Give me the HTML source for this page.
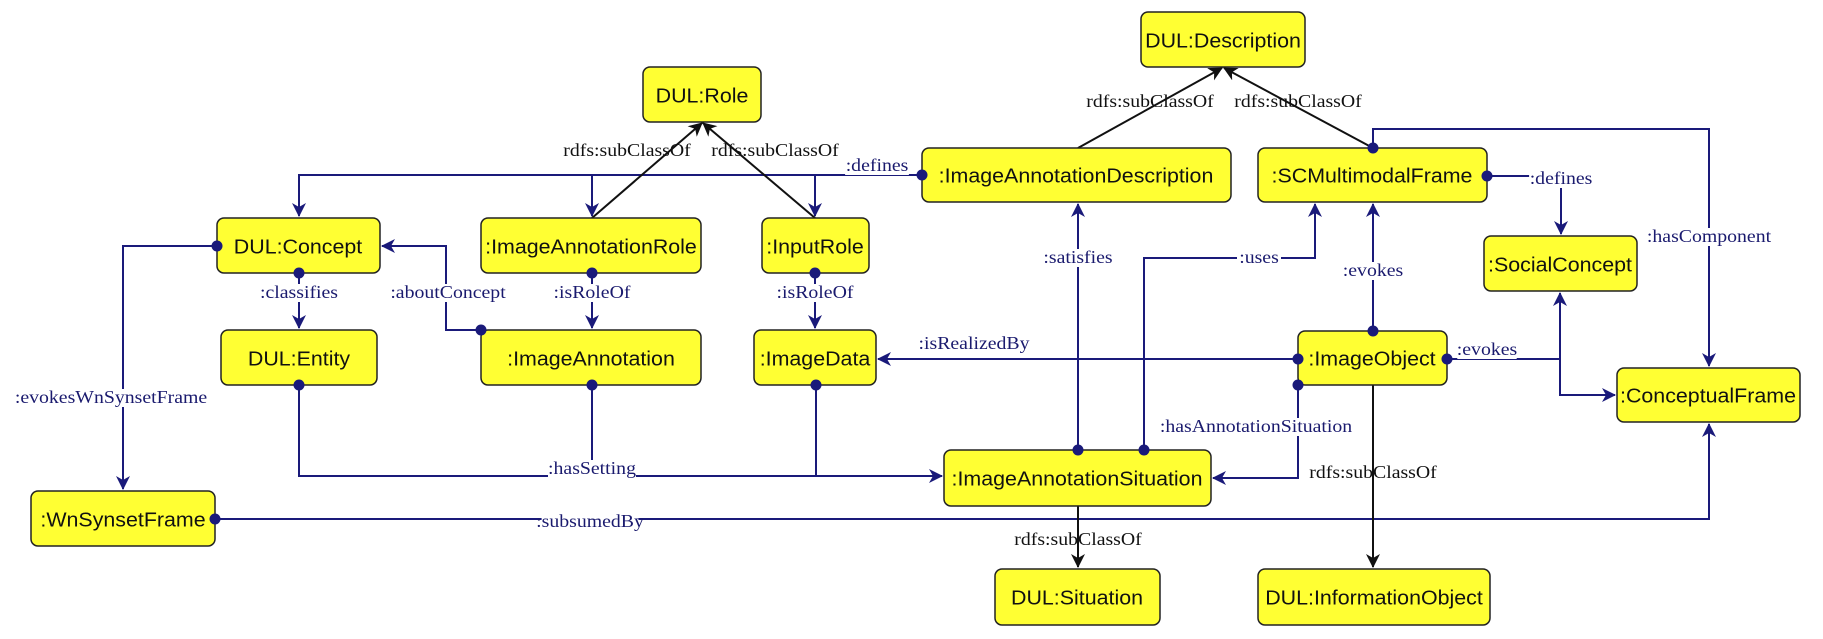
<!DOCTYPE html>
<html><head><meta charset="utf-8"><style>
html,body{margin:0;padding:0;background:#fff;overflow:hidden;}
svg{display:block;}
.b{fill:#ffff33;stroke:#222;stroke-width:1.5;}
.t{font-family:"Liberation Sans",sans-serif;font-size:20px;fill:#111;text-anchor:middle;dominant-baseline:central;}
.l{font-family:"Liberation Serif",serif;font-size:18px;fill:#1a1a6e;text-anchor:middle;dominant-baseline:central;}
.lk{font-family:"Liberation Serif",serif;font-size:18px;fill:#111;text-anchor:middle;dominant-baseline:central;}
.n{fill:none;stroke:#1a1a7a;stroke-width:2;}
.k{fill:none;stroke:#111;stroke-width:2;}
.bg{fill:#fff;}
</style></head><body>
<svg width="1823" height="639" viewBox="0 0 1823 639" xmlns="http://www.w3.org/2000/svg">
<defs>
<marker id="an" markerWidth="14" markerHeight="14" refX="13" refY="7" orient="auto" markerUnits="userSpaceOnUse"><path d="M0,0 L14,7 L0,14 L4,7 z" fill="#1a1a7a"/></marker>
<marker id="ak" markerWidth="14" markerHeight="14" refX="13" refY="7" orient="auto" markerUnits="userSpaceOnUse"><path d="M0,0 L14,7 L0,14 L4,7 z" fill="#111"/></marker>
</defs>

<g class="n">
<path d="M922,175 H299 V216" marker-end="url(#an)"/>
<path d="M592,175 V216" marker-end="url(#an)"/>
<path d="M815,175 V216" marker-end="url(#an)"/>
<path d="M217,246 H123 V489" marker-end="url(#an)"/>
<path d="M299,273 V328" marker-end="url(#an)"/>
<path d="M592,273 V328" marker-end="url(#an)"/>
<path d="M815,273 V328" marker-end="url(#an)"/>
<path d="M481,330 H446 V246 H382" marker-end="url(#an)"/>
<path d="M299,385 V476 H942" marker-end="url(#an)"/>
<path d="M592,385 V476"/>
<path d="M816,385 V476"/>
<path d="M215,519 H1709 V424" marker-end="url(#an)"/>
<path d="M1373,148 V129 H1709 V366" marker-end="url(#an)"/>
<path d="M1487,176 H1561 V234" marker-end="url(#an)"/>
<path d="M1078,450 V204" marker-end="url(#an)"/>
<path d="M1144,450 V258 H1315 V204" marker-end="url(#an)"/>
<path d="M1373,331 V204" marker-end="url(#an)"/>
<path d="M1447,359 H1560 V293" marker-end="url(#an)"/>
<path d="M1560,359 V395 H1615" marker-end="url(#an)"/>
<path d="M1298,359 H878" marker-end="url(#an)"/>
<path d="M1298,385 V478 H1213" marker-end="url(#an)"/>
</g>
<g class="k">
<path d="M592,218 L702,123" marker-end="url(#ak)"/>
<path d="M815,218 L703,123" marker-end="url(#ak)"/>
<path d="M1078,148 L1222,68" marker-end="url(#ak)"/>
<path d="M1373,148 L1224,68" marker-end="url(#ak)"/>
<path d="M1078,506 V567" marker-end="url(#ak)"/>
<path d="M1373,385 V567" marker-end="url(#ak)"/>
</g>

<g>
<g transform="translate(877,166) scale(1.1,1)"><rect class="bg" x="-29" y="-9" width="58" height="18"/><text class="l">:defines</text></g>
<g transform="translate(627,151) scale(1.1,1)"><text class="lk">rdfs:subClassOf</text></g>
<g transform="translate(775,151) scale(1.1,1)"><text class="lk">rdfs:subClassOf</text></g>
<g transform="translate(1150,102) scale(1.1,1)"><text class="lk">rdfs:subClassOf</text></g>
<g transform="translate(1298,102) scale(1.1,1)"><text class="lk">rdfs:subClassOf</text></g>
<g transform="translate(111,398) scale(1.1,1)"><rect class="bg" x="-82" y="-9" width="164" height="18"/><text class="l">:evokesWnSynsetFrame</text></g>
<g transform="translate(299,293) scale(1.1,1)"><rect class="bg" x="-36" y="-9" width="72" height="18"/><text class="l">:classifies</text></g>
<g transform="translate(448,293) scale(1.1,1)"><rect class="bg" x="-51" y="-9" width="102" height="18"/><text class="l">:aboutConcept</text></g>
<g transform="translate(592,293) scale(1.1,1)"><rect class="bg" x="-33" y="-9" width="66" height="18"/><text class="l">:isRoleOf</text></g>
<g transform="translate(815,293) scale(1.1,1)"><rect class="bg" x="-33" y="-9" width="66" height="18"/><text class="l">:isRoleOf</text></g>
<g transform="translate(592,469) scale(1.1,1)"><rect class="bg" x="-40" y="-9" width="80" height="18"/><text class="l">:hasSetting</text></g>
<g transform="translate(590,522) scale(1.1,1)"><rect class="bg" x="-44" y="-9" width="88" height="18"/><text class="l">:subsumedBy</text></g>
<g transform="translate(1709,237) scale(1.1,1)"><rect class="bg" x="-51" y="-9" width="102" height="18"/><text class="l">:hasComponent</text></g>
<g transform="translate(1561,179) scale(1.1,1)"><rect class="bg" x="-29" y="-9" width="58" height="18"/><text class="l">:defines</text></g>
<g transform="translate(1078,258) scale(1.1,1)"><rect class="bg" x="-31" y="-9" width="62" height="18"/><text class="l">:satisfies</text></g>
<g transform="translate(1259,258) scale(1.1,1)"><rect class="bg" x="-20" y="-9" width="40" height="18"/><text class="l">:uses</text></g>
<g transform="translate(1373,271) scale(1.1,1)"><rect class="bg" x="-27" y="-9" width="54" height="18"/><text class="l">:evokes</text></g>
<g transform="translate(1487,350) scale(1.1,1)"><rect class="bg" x="-27" y="-9" width="54" height="18"/><text class="l">:evokes</text></g>
<g transform="translate(974,344) scale(1.1,1)"><text class="l">:isRealizedBy</text></g>
<g transform="translate(1256,427) scale(1.1,1)"><rect class="bg" x="-82" y="-9" width="164" height="18"/><text class="l">:hasAnnotationSituation</text></g>
<g transform="translate(1373,473) scale(1.1,1)"><text class="lk">rdfs:subClassOf</text></g>
<g transform="translate(1078,540) scale(1.1,1)"><text class="lk">rdfs:subClassOf</text></g>
</g>

<g>
<rect class="b" x="643" y="67" width="118" height="55" rx="7"/><text class="t" transform="translate(702,96) scale(1.07,1)">DUL:Role</text>
<rect class="b" x="1141" y="12" width="164" height="55" rx="7"/><text class="t" transform="translate(1223,41) scale(1.07,1)">DUL:Description</text>
<rect class="b" x="217" y="218" width="163" height="55" rx="7"/><text class="t" transform="translate(298,247) scale(1.07,1)">DUL:Concept</text>
<rect class="b" x="481" y="218" width="220" height="55" rx="7"/><text class="t" transform="translate(591,247) scale(1.07,1)">:ImageAnnotationRole</text>
<rect class="b" x="762" y="218" width="107" height="55" rx="7"/><text class="t" transform="translate(815,247) scale(1.07,1)">:InputRole</text>
<rect class="b" x="922" y="148" width="309" height="54" rx="7"/><text class="t" transform="translate(1076,176) scale(1.07,1)">:ImageAnnotationDescription</text>
<rect class="b" x="1258" y="148" width="229" height="54" rx="7"/><text class="t" transform="translate(1372,176) scale(1.07,1)">:SCMultimodalFrame</text>
<rect class="b" x="1484" y="236" width="153" height="55" rx="7"/><text class="t" transform="translate(1560,265) scale(1.07,1)">:SocialConcept</text>
<rect class="b" x="221" y="330" width="156" height="55" rx="7"/><text class="t" transform="translate(299,359) scale(1.07,1)">DUL:Entity</text>
<rect class="b" x="481" y="330" width="220" height="55" rx="7"/><text class="t" transform="translate(591,359) scale(1.07,1)">:ImageAnnotation</text>
<rect class="b" x="754" y="330" width="122" height="55" rx="7"/><text class="t" transform="translate(815,359) scale(1.07,1)">:ImageData</text>
<rect class="b" x="1298" y="331" width="149" height="54" rx="7"/><text class="t" transform="translate(1372,359) scale(1.07,1)">:ImageObject</text>
<rect class="b" x="1617" y="368" width="183" height="54" rx="7"/><text class="t" transform="translate(1708,396) scale(1.07,1)">:ConceptualFrame</text>
<rect class="b" x="944" y="450" width="267" height="56" rx="7"/><text class="t" transform="translate(1077,479) scale(1.07,1)">:ImageAnnotationSituation</text>
<rect class="b" x="31" y="491" width="184" height="55" rx="7"/><text class="t" transform="translate(123,520) scale(1.07,1)">:WnSynsetFrame</text>
<rect class="b" x="995" y="569" width="165" height="56" rx="7"/><text class="t" transform="translate(1077,598) scale(1.07,1)">DUL:Situation</text>
<rect class="b" x="1258" y="569" width="232" height="56" rx="7"/><text class="t" transform="translate(1374,598) scale(1.07,1)">DUL:InformationObject</text>
</g>

<g fill="#1a1a7a">
<circle cx="922" cy="175" r="5.5"/>
<circle cx="217" cy="246" r="5.5"/>
<circle cx="299" cy="273" r="5.5"/>
<circle cx="592" cy="273" r="5.5"/>
<circle cx="815" cy="273" r="5.5"/>
<circle cx="481" cy="330" r="5.5"/>
<circle cx="299" cy="385" r="5.5"/>
<circle cx="592" cy="385" r="5.5"/>
<circle cx="816" cy="385" r="5.5"/>
<circle cx="215" cy="519" r="5.5"/>
<circle cx="1373" cy="148" r="5.5"/>
<circle cx="1487" cy="176" r="5.5"/>
<circle cx="1078" cy="450" r="5.5"/>
<circle cx="1144" cy="450" r="5.5"/>
<circle cx="1373" cy="331" r="5.5"/>
<circle cx="1447" cy="359" r="5.5"/>
<circle cx="1298" cy="359" r="5.5"/>
<circle cx="1298" cy="385" r="5.5"/>
</g>
</svg>
</body></html>
